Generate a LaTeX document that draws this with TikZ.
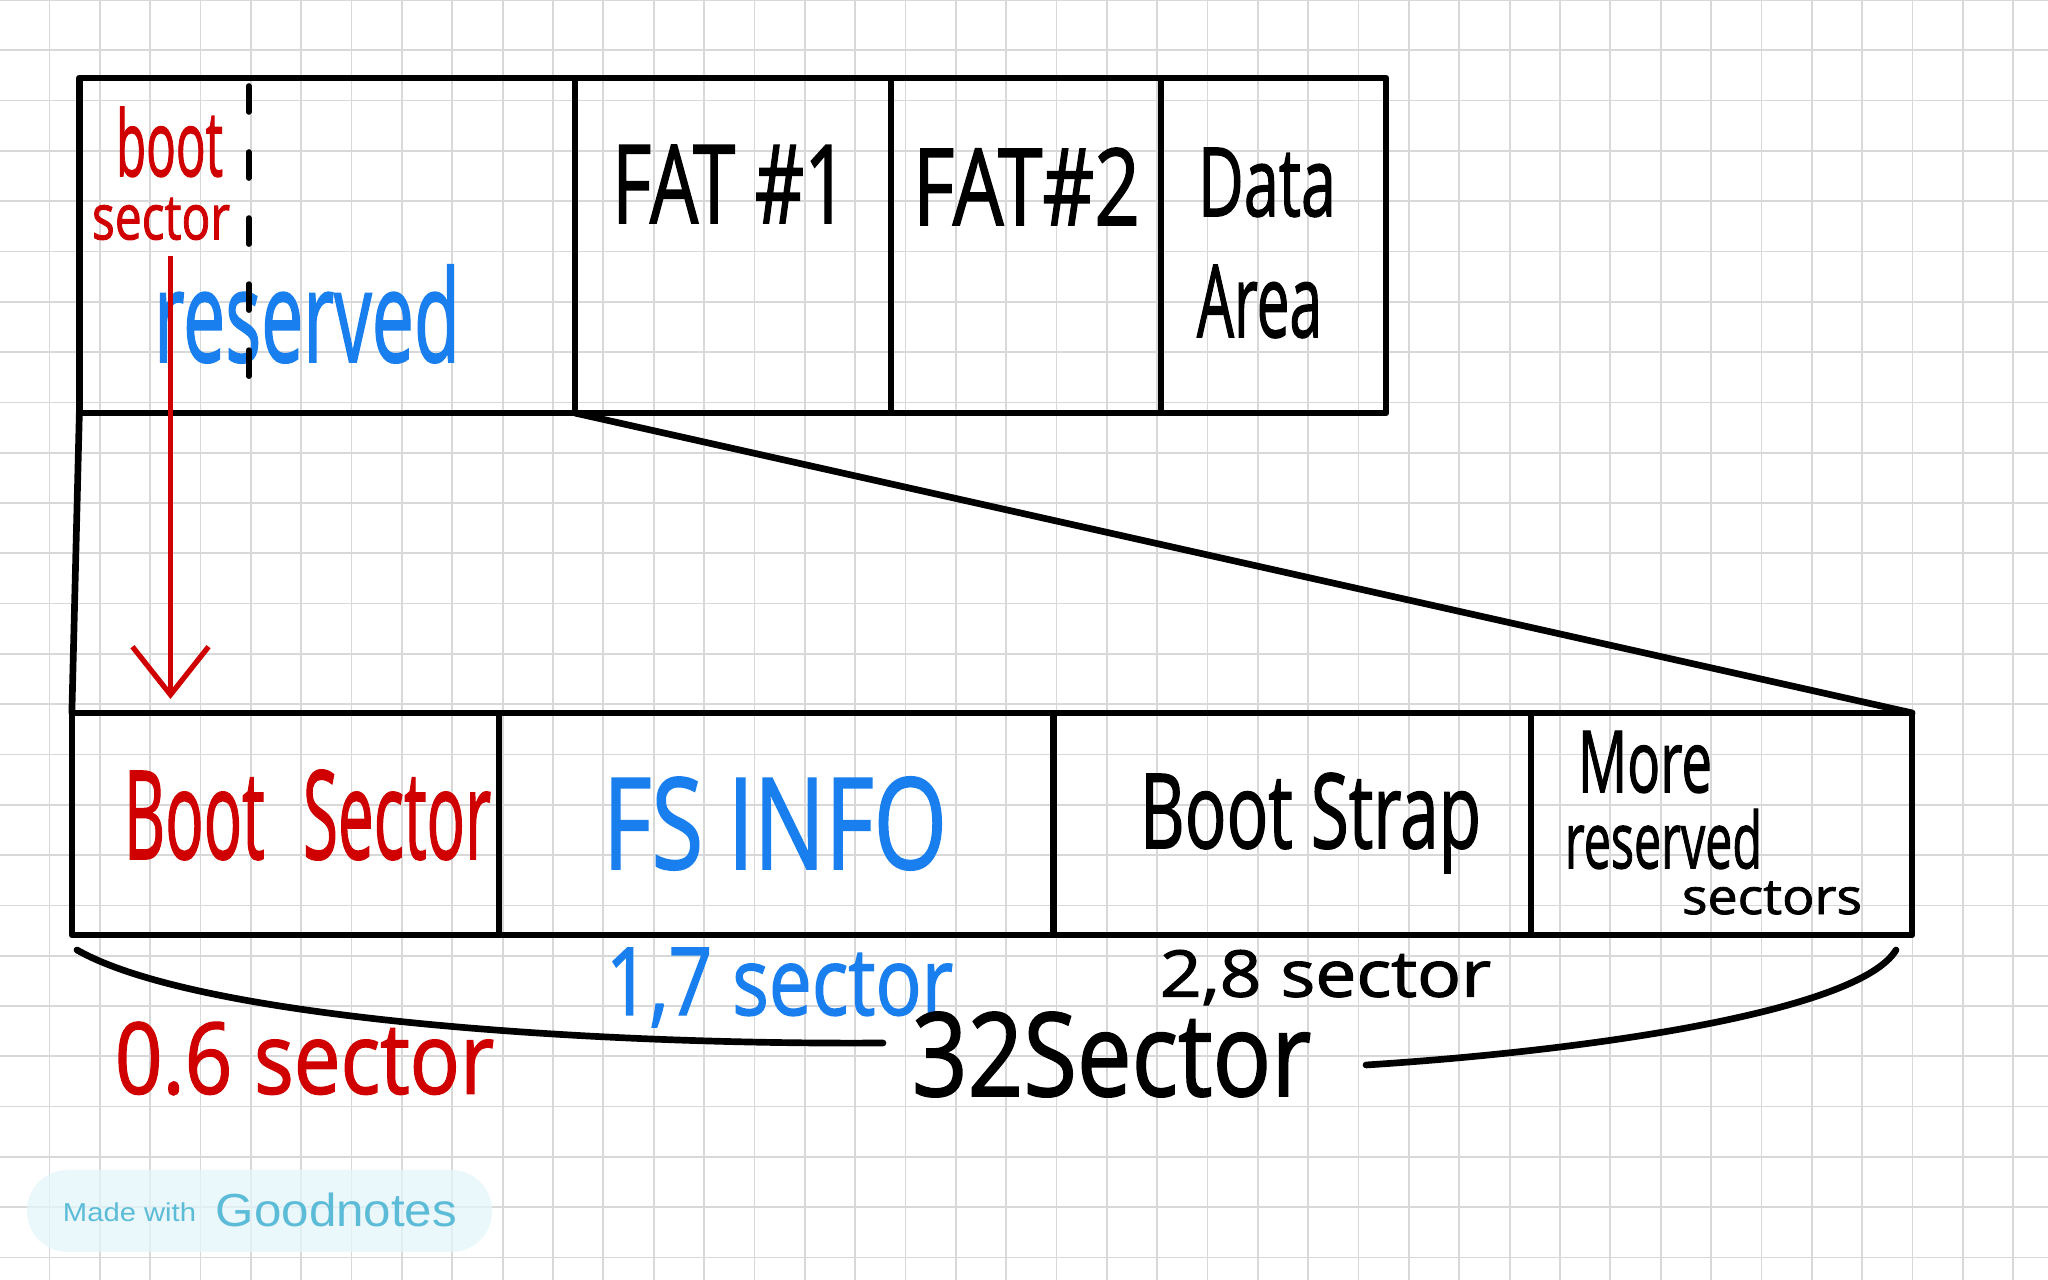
\documentclass[tikz,border=0pt]{standalone}
\usepackage{fontspec}
\setmainfont{Open Sans}
\newfontfamily\hwfont{Open Sans}[FakeBold=1.6]
\newfontfamily\wmfont{Liberation Sans}
\usetikzlibrary{arrows.meta}
\definecolor{hwred}{HTML}{D00000}
\definecolor{hwblue}{HTML}{1A7FEE}
\definecolor{gridgray}{HTML}{D8D8D8}
\definecolor{wmfill}{HTML}{E3F5FA}
\definecolor{wmtext}{HTML}{5CBCD8}
\newcommand{\fitto}[3]{\resizebox*{#1cm}{#2cm}{#3}}
\tikzset{
  cell/.style={draw=black, line width=1.9pt, inner sep=0pt, outer sep=0pt, line join=round},
  hw/.style={inner sep=0pt, outer sep=0pt, anchor=center, font=\hwfont},
  gridline/.style={draw=gridgray, line width=0.5pt},
  zoomline/.style={draw=black, line width=1.9pt, line cap=round},
  bracestroke/.style={draw=black, line width=1.9pt, line cap=round},
  redarrow/.style={draw=hwred, line width=1.5pt, -{Straight Barb[length=0.48cm, width=0.76cm]}},
  sepline/.style={draw=black, line width=1.6pt, line cap=round, dash pattern=on 0.26cm off 0.4cm},
  pill/.style={fill=wmfill, fill opacity=0.75, rounded corners=0.41cm, inner sep=0pt, minimum width=4.65cm, minimum height=0.82cm},
  wm/.style={inner sep=0pt, outer sep=0pt, anchor=center, text=wmtext}
}
\begin{document}
\begin{tikzpicture}[x=0.01cm, y=-0.01cm]
\useasboundingbox (0,0) rectangle (2048,1280);
\fill[white] (0,0) rectangle (2048,1280);
% grid paper
\foreach \i in {0,...,41} { \draw[gridline] ({49.5+50.35*(\i-1)},0) -- ({49.5+50.35*(\i-1)},1280); }
\foreach \j in {0,...,25} { \draw[gridline] (0,{50.3*\j}) -- (2048,{50.3*\j}); }

% top row (FAT volume layout)
\node[cell, minimum width=4.955cm, minimum height=3.35cm] (res)  at (327.25,245.5) {};
\node[cell, minimum width=3.16cm,  minimum height=3.35cm] (fat1) at (733,245.5) {};
\node[cell, minimum width=2.70cm,  minimum height=3.35cm] (fat2) at (1026,245.5) {};
\node[cell, minimum width=2.25cm,  minimum height=3.35cm] (data) at (1273.5,245.5) {};

% bottom row (reserved sectors)
\node[cell, minimum width=4.27cm, minimum height=2.22cm] (boot)   at (285.5,824) {};
\node[cell, minimum width=5.54cm, minimum height=2.22cm] (fsinfo) at (776,824) {};
\node[cell, minimum width=4.78cm, minimum height=2.22cm] (strap)  at (1292,824) {};
\node[cell, minimum width=3.81cm, minimum height=2.22cm] (more)   at (1721.5,824) {};

% zoom lines
\draw[zoomline] (res.south west) -- (boot.north west);
\draw[zoomline] (res.south east) -- (more.north east);

% texts top
\node[hw, text=hwred] (tboot) at (169.5,142) {\fitto{1.07}{0.70}{boot}};
\node[hw, text=hwred] (tsec) at (161,219) {\fitto{1.38}{0.42}{sector}};
\node[hw, text=hwblue] (tres) at (307,314) {\fitto{3.06}{0.98}{reserved}};
\node[hw] (tfat1) at (730,184) {\fitto{2.36}{0.78}{FAT \#1}};
\node[hw] (tfat2) at (1026.5,186.5) {\fitto{2.27}{0.77}{FAT\#2}};
\node[hw] (tdata) at (1267,182.5) {\fitto{1.38}{0.69}{Data}};
\node[hw] (tarea) at (1259.5,301.5) {\fitto{1.25}{0.73}{Area}};

% texts bottom
\node[hw, text=hwred] (tbootsec) at (307.5,815) {\fitto{3.67}{0.90}{Boot\hspace{0.6em}Sector}};
\node[hw, text=hwblue] (tfs) at (775,823.5) {\fitto{3.44}{0.93}{FS INFO}};
\node[hw] (tstrap) at (1310.5,823) {\fitto{3.41}{1.00}{Boot Strap}};
\node[hw] (tmore) at (1645,762) {\fitto{1.34}{0.62}{More}};
\node[hw] (tmres) at (1663.5,839) {\fitto{1.97}{0.60}{reserved}};
\node[hw] (tmsec) at (1772,898) {\fitto{1.80}{0.33}{sectors}};

% sector labels
\node[hw, text=hwblue] (l17) at (779.5,987.5) {\fitto{3.47}{0.79}{1,7 sector}};
\node[hw, text=hwred] (l06) at (304.5,1058.5) {\fitto{3.79}{0.73}{0.6 sector}};
\node[hw] (l28) at (1325.5,977.5) {\fitto{3.31}{0.55}{2,8 sector}};
\node[hw] (l32) at (1111.5,1054.5) {\fitto{3.99}{0.85}{32Sector}};

% brace under the bottom row
\coordinate (bl0) at (77,950);
\coordinate (bl1) at (883,1043);
\coordinate (br0) at (1366,1065);
\coordinate (br1) at (1896,950);
\draw[bracestroke] (bl0) .. controls (200,1020) and (600,1045) .. (bl1);
\draw[bracestroke] (br0) .. controls (1600,1050) and (1860,1010) .. (br1);

% dashed split inside reserved area
\coordinate (d0) at (248.7,86);
\coordinate (d1) at (248.7,398);
\draw[sepline] (d0) -- (d1);

% red arrow: boot sector -> Boot Sector
\coordinate (a0) at (170.5,256);
\coordinate (a1) at (170.5,699);
\draw[redarrow] (a0) -- (a1);

% watermark
\node[pill] (wmpill) at (259.5,1211) {};
\node[wm] (wm1) at (129.5,1212.5) {\fitto{1.33}{0.19}{\wmfont Made with}};
\node[wm] (wm2) at (336.5,1210) {\fitto{2.41}{0.34}{\wmfont Goodnotes}};
\end{tikzpicture}
\end{document}
